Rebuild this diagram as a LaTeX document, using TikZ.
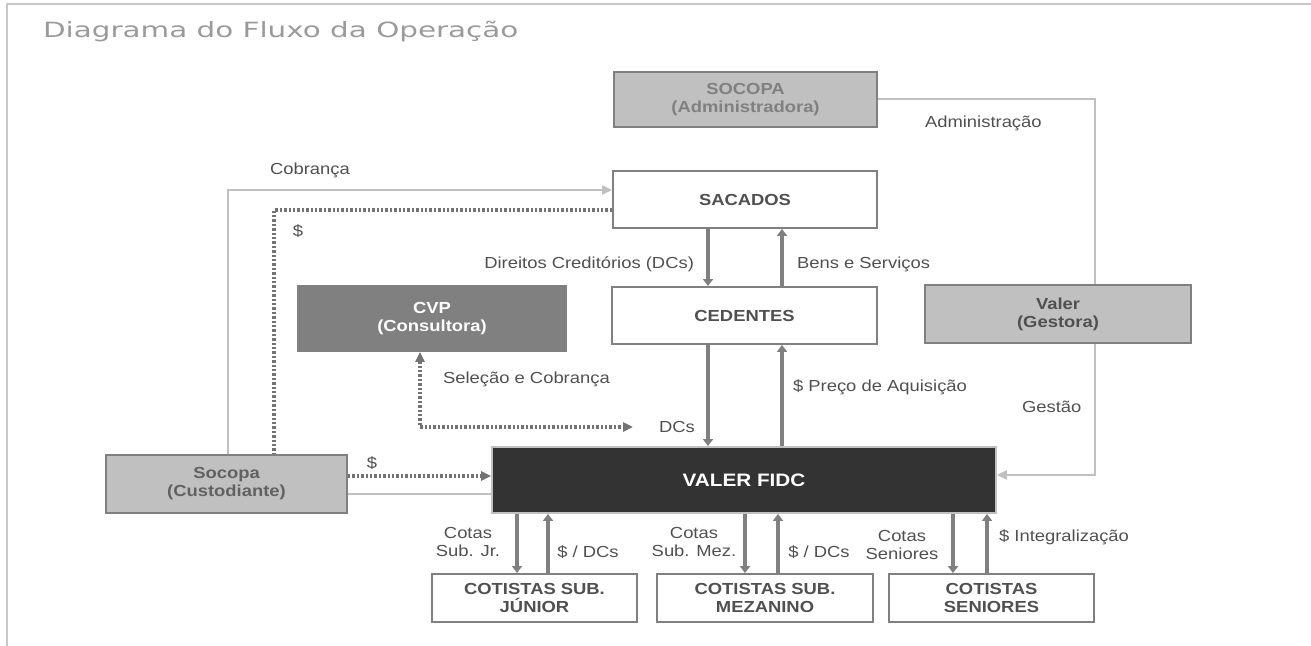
\documentclass[tikz,border=0pt]{standalone}
\usepackage{fontspec}
\setmainfont{Liberation Sans}[FakeStretch=1.15]
\newfontfamily\titlefont{DejaVu Sans}[FakeStretch=1.4]
\usetikzlibrary{arrows.meta}
\definecolor{rim}{HTML}{C8C8C8}
\definecolor{pale}{HTML}{C0C0C0}
\definecolor{mid}{HTML}{808080}
\definecolor{ink}{HTML}{505050}
\definecolor{dark}{HTML}{333333}

\begin{document}
\begin{tikzpicture}[x=0.5pt,y=-0.5pt,
  font=\fontsize{8}{9}\selectfont, text=ink,
  box/.style={draw=mid,line width=0.9pt,fill=white,align=center,inner sep=0pt,
    font=\fontsize{8}{9}\selectfont\bfseries,text=ink},
  paleline/.style={draw=pale,line width=1pt},
  tip/.style={-{Triangle[length=5pt,width=4.5pt]}},
  flow/.style={draw=mid,line width=2pt,-{Triangle[length=3.5pt,width=5pt]}},
  dots/.style={draw=mid!90!black,line width=1.7pt,dash pattern=on 1.2pt off 1pt}]
\useasboundingbox (0,0) rectangle (1311,646);
\draw[rim,line width=1pt] (7,646) -- (7,4) -- (1311,4);
\node[anchor=west,font=\titlefont\fontsize{10.5}{12}\selectfont,text=mid!80] (title) at (36,32) {Diagrama do Fluxo da Operação};

\node[box,fill=pale,text=mid,minimum width=131.5pt,minimum height=27.5pt] (socopa) at (745.5,99.5) {SOCOPA\\(Administradora)};
\node[box,minimum width=132pt,minimum height=28.5pt] (sacados) at (745,199.5) {SACADOS};
\node[box,minimum width=132.5pt,minimum height=28.5pt] (cedentes) at (744.5,315.5) {CEDENTES};
\node[box,fill=mid,text=white,minimum width=134pt,minimum height=32.5pt] (cvp) at (432,318.5) {CVP\\(Consultora)};
\node[box,fill=dark,draw=pale,text=white,minimum width=252pt,minimum height=33pt,
  font=\fontsize{9}{10}\selectfont\bfseries] (fidc) at (744,480) {VALER FIDC};
\node[box,fill=pale,text=ink!90,minimum width=120.5pt,minimum height=29pt] (custod) at (226.5,484) {Socopa\\(Custodiante)};
\node[box,minimum width=102.5pt,minimum height=24pt] (junior) at (534.5,598) {COTISTAS SUB.\\JÚNIOR};
\node[box,minimum width=108pt,minimum height=24pt] (mezanino) at (765,598) {COTISTAS SUB.\\MEZANINO};
\node[box,minimum width=102.5pt,minimum height=24pt] (seniores) at (991.5,598) {COTISTAS\\SENIORES};

\coordinate (adm) at (1095,475);
\draw[paleline,tip] (socopa.east) -| (adm) -- (adm -| fidc.east);
\node[box,fill=pale,minimum width=133pt,minimum height=29pt] (valer) at (1058,314) {Valer\\(Gestora)};

\coordinate (cobra) at (228,190);
\coordinate (pago) at (274,210);
\coordinate (dcs) at (633,427);
\draw[paleline,tip] (custod.north -| cobra) |- (sacados.west |- cobra);
\draw[dots] (sacados.west |- pago) -| (custod.north -| pago);
\draw[dots,{Triangle[length=5pt,width=4.5pt]}-{Triangle[length=5pt,width=4.5pt]}] (cvp.south -| 420,0) |- (dcs);
\draw[dots,tip] ([yshift=4pt]custod.east) -- ([yshift=4pt]custod.east -| fidc.west);
\draw[paleline] ([yshift=-5pt]custod.east) -- ([yshift=-5pt]custod.east -| fidc.west);

\coordinate (l) at (708,0);
\coordinate (r) at (782,0);
\draw[flow] (sacados.south -| l) -- (cedentes.north -| l);
\draw[flow] (cedentes.north -| r) -- (sacados.south -| r);
\draw[flow] (cedentes.south -| l) -- (fidc.north -| l);
\draw[flow] (fidc.north -| r) -- (cedentes.south -| r);
\foreach \c/\dx/\ux in {junior/517/548, mezanino/745/778, seniores/953/987} {
  \coordinate (dn) at (\dx,0);
  \coordinate (up) at (\ux,0);
  \draw[flow] (fidc.south -| dn) -- (\c.north -| dn);
  \draw[flow] (\c.north -| up) -- (fidc.south -| up);
}

\node (lcob) at (310,170) {Cobrança};
\node (lpago) at (298,231) {\$};
\node[anchor=east] (ldir) at (701,264) {Direitos Creditórios (DCs)};
\node[anchor=west] (lbens) at (790,264) {Bens e Serviços};
\node[anchor=west] (lsel) at (436,379) {Seleção e Cobrança};
\node[anchor=west] (ldcs) at (652,427) {DCs};
\node[anchor=west] (lpreco) at (786,387) {\$ Preço de Aquisição};
\node[anchor=west] (ladm) at (918,123) {Administração};
\node[anchor=west] (lges) at (1015,407) {Gestão};
\node (lcus) at (372,463) {\$};
\node[align=center] (ljr) at (468,542) {Cotas\\Sub. Jr.};
\node (ljrdc) at (588,552) {\$ / DCs};
\node[align=center] (lmez) at (694,542) {Cotas\\Sub. Mez.};
\node (lmezdc) at (819,552) {\$ / DCs};
\node[align=center] (lsen) at (902,545) {Cotas\\Seniores};
\node[anchor=west] (lint) at (992,537) {\$ Integralização};
\end{tikzpicture}
\end{document}
